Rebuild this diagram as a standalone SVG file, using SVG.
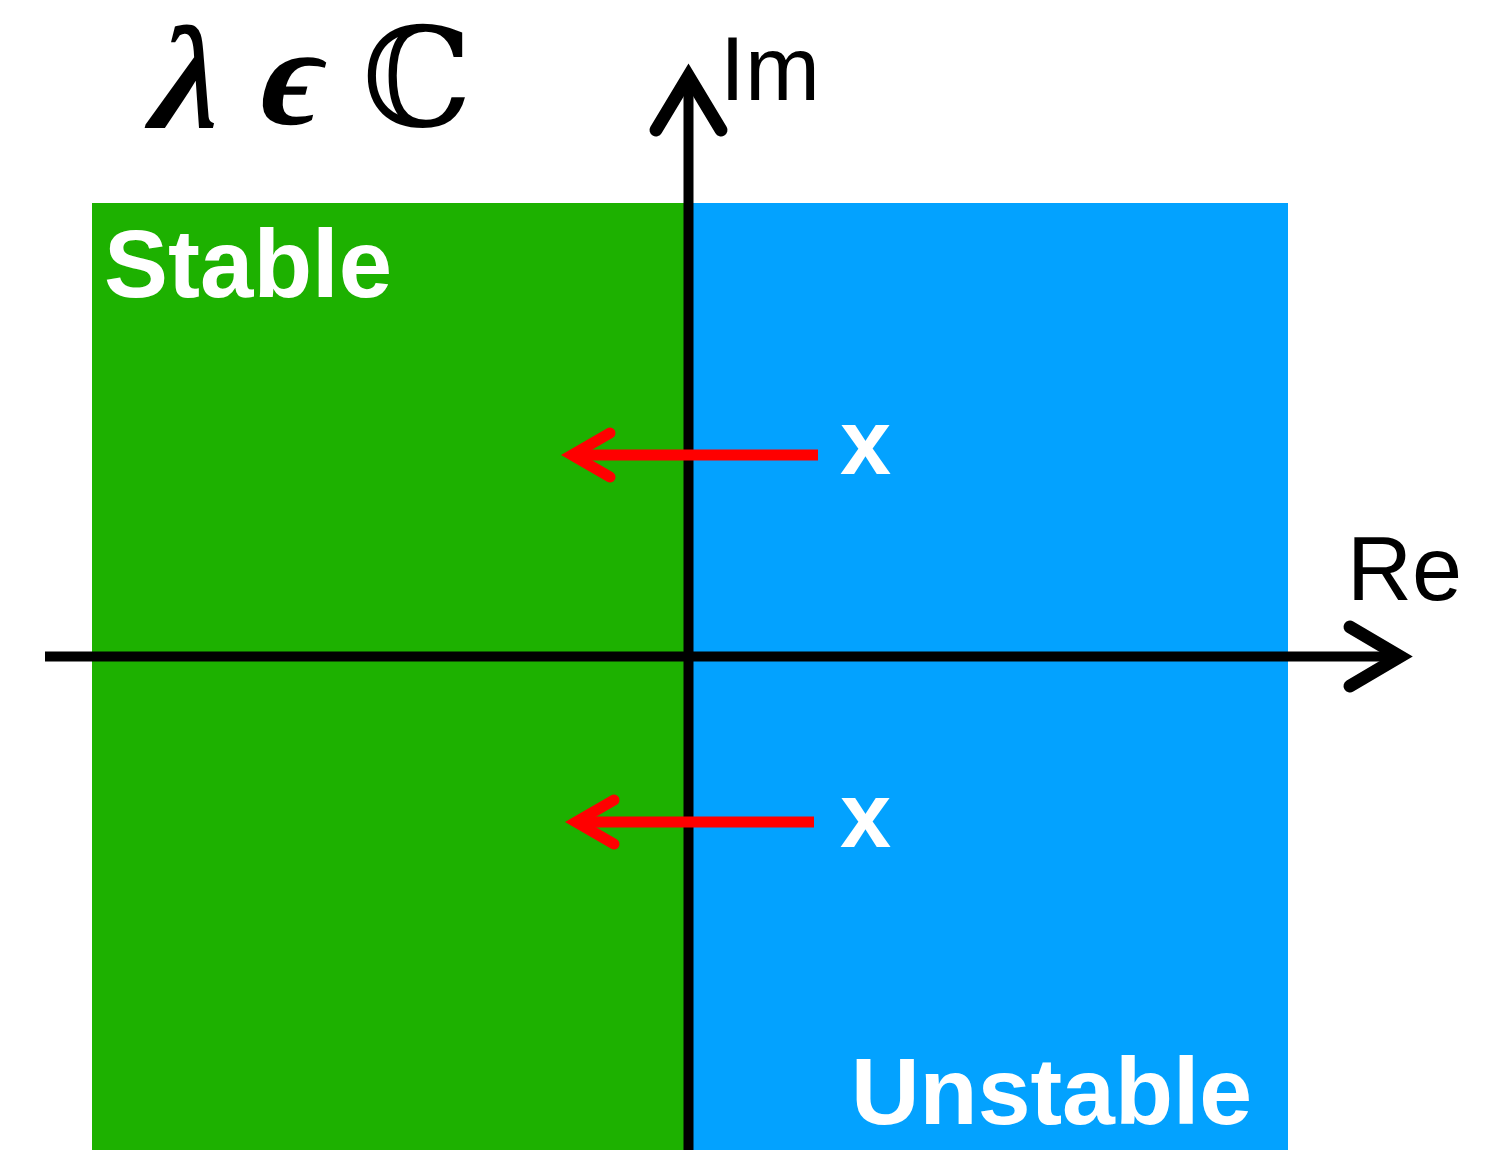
<svg xmlns="http://www.w3.org/2000/svg" width="1492" height="1150" viewBox="0 0 1492 1150">
<style>
.axis{stroke:#000;stroke-width:10;fill:none}
.head{stroke:#000;stroke-width:13;fill:none;stroke-linecap:round;stroke-linejoin:miter}
.red{stroke:#ff0000;stroke-width:11;fill:none}
.redhead{stroke:#ff0000;stroke-width:11;fill:none;stroke-linecap:round;stroke-linejoin:miter}
.lbl{font-family:"Liberation Sans",Arial,sans-serif;font-size:90px;fill:#000}
.wb{font-family:"Liberation Sans",Arial,sans-serif;font-weight:bold;fill:#fff}
.math{font-family:"Liberation Serif","DejaVu Serif",serif;fill:#000;font-weight:bold}
</style>
<rect width="1492" height="1150" fill="#fff"/>
<g id="stable-region">
<rect x="92" y="203" width="596" height="947" fill="#1db100"/>
<text class="wb" x="104" y="297" font-size="96">Stable</text>
</g>
<g id="unstable-region">
<rect x="688" y="203" width="600" height="947" fill="#03a2ff"/>
<text class="wb" x="851" y="1124" font-size="95">Unstable</text>
</g>
<g id="formula">
<text class="math" transform="translate(143,128) skewX(-14) scale(1.04,1.08)" font-size="136">λ</text>
<text class="math" transform="translate(253,124) skewX(-14)" font-size="142">ϵ</text>
<text x="362" y="126" font-family="'DejaVu Serif',serif" font-size="138" fill="#000">ℂ</text>
</g>
<g id="connectors">
<line class="axis" x1="688.5" y1="80" x2="688.5" y2="1150"/>
<polyline class="head" points="656,130 688.5,76 721,130"/>
<line class="axis" x1="45" y1="656.5" x2="1400" y2="656.5"/>
<polyline class="head" points="1350,627 1400,656.5 1350,686"/>
<line class="red" x1="818" y1="455" x2="576" y2="455"/>
<polyline class="redhead" points="610,433 572,455 610,477"/>
<line class="red" x1="814" y1="822" x2="580" y2="822"/>
<polyline class="redhead" points="614,800 576,822 614,844"/>
</g>
<g id="labels">
<text class="lbl" x="720" y="100">Im</text>
<text class="lbl" x="1347" y="600">Re</text>
<text class="wb" x="840" y="474" font-size="92">x</text>
<text class="wb" x="840" y="847" font-size="92">x</text>
</g>
</svg>
